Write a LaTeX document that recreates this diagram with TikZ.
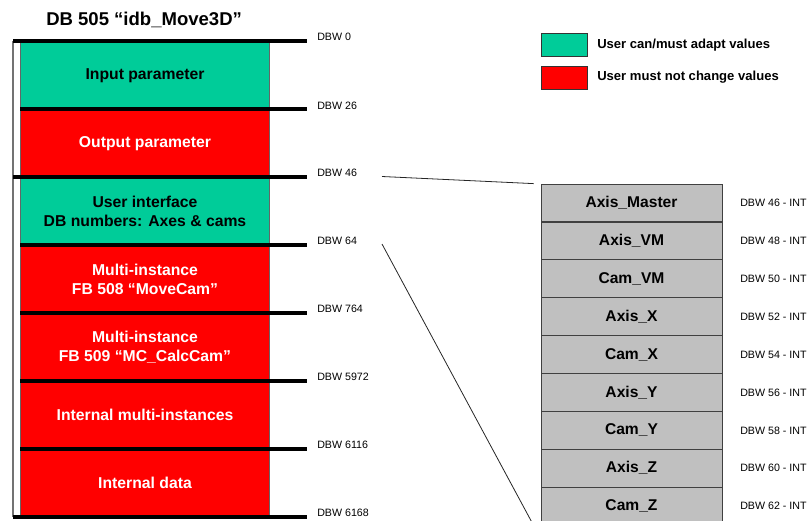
\documentclass[tikz,border=0pt]{standalone}
\usepackage{fontspec}
\setmainfont{Liberation Sans}
\definecolor{usergreen}{HTML}{00CC99}
\definecolor{lockred}{HTML}{FF0000}
\definecolor{cellgray}{HTML}{C0C0C0}
\begin{document}
\begin{tikzpicture}[x=0.75pt,y=-0.75pt,
  segment/.style={minimum width=186.75pt, minimum height=50.9pt, inner sep=0pt,
    draw=black!60, line width=0.6pt, align=center,
    font=\fontsize{11.8}{14.25}\selectfont\bfseries},
  editable/.style={segment, fill=usergreen, text=black},
  locked/.style={segment, fill=lockred, text=white},
  offset/.style={anchor=west, inner sep=0pt, font=\fontsize{8}{9.6}\selectfont},
  bound/.style={line width=3pt},
  cell/.style={minimum width=135.75pt, minimum height=28.4pt, inner sep=0pt,
    draw=black!75, line width=0.6pt, fill=cellgray,
    font=\fontsize{11.7}{14}\selectfont\bfseries},
  legbox/.style={minimum width=34.5pt, minimum height=17.25pt, inner sep=0pt,
    draw=black!80, line width=0.6pt},
  legtext/.style={anchor=west, inner sep=0pt, font=\fontsize{9.8}{11.8}\selectfont\bfseries},
  link/.style={line width=0.6pt, black!85}]
\useasboundingbox (0,0) rectangle (807,521);
\clip (0,0) rectangle (807,521);

% title
\node[anchor=west, inner sep=0pt, font=\fontsize{13.9}{16.7}\selectfont\bfseries]
  (title) at (46,19.5) {DB 505 “idb\_Move3D”};

% bracket on the left
\draw[black!55, line width=1.2pt] (13,41.3) -- (13,516.5);

% data block segments
\node[editable] (inp)  at (145,75.25)  {Input parameter};
\node[locked]   (outp) at (145,143.15) {Output parameter};
\node[editable] (ui)   at (145,211.05) {User interface\\DB numbers: Axes \& cams};
\node[locked]   (fb508) at (145,278.95) {Multi-instance\\FB 508 “MoveCam”};
\node[locked]   (fb509) at (145,346.85) {Multi-instance\\FB 509 “MC\_CalcCam”};
\node[locked]   (imi)  at (145,414.65) {Internal multi-instances};
\node[locked]   (idat) at (145,482.55) {Internal data};

% address boundaries
\draw[bound] (13,41.3)  -- (307,41.3);
\draw[bound] (20,109.2) -- (307,109.2);
\draw[bound] (13,177.1) -- (307,177.1);
\draw[bound] (20,245.0) -- (307,245.0);
\draw[bound] (20,312.9) -- (307,312.9);
\draw[bound] (20,380.7) -- (307,380.7);
\draw[bound] (20,448.6) -- (307,448.6);
\draw[bound] (13,516.5) -- (307,516.5);

\node[offset] (o0)    at (317,37.3)  {DBW 0};
\node[offset] (o26)   at (317,105.4) {DBW 26};
\node[offset] (o46)   at (317,173.3) {DBW 46};
\node[offset] (o64)   at (317,241.2) {DBW 64};
\node[offset] (o764)  at (317,309.1) {DBW 764};
\node[offset] (o5972) at (317,376.9) {DBW 5972};
\node[offset] (o6116) at (317,444.8) {DBW 6116};
\node[offset] (o6168) at (317,512.7) {DBW 6168};

% legend
\node[legbox, fill=usergreen] (lgA) at (564,44.5) {};
\node[legbox, fill=lockred]   (lgB) at (564,77.5) {};
\node[legtext] (lgAt) at (597,45) {User can/must adapt values};
\node[legtext] (lgBt) at (597,77.5) {User must not change values};

% detail of the user interface area
\node[cell] (r1) at (631.5,202.95) {Axis\_Master};
\node[cell] (r2) at (631.5,240.85) {Axis\_VM};
\node[cell] (r3) at (631.5,278.75) {Cam\_VM};
\node[cell] (r4) at (631.5,316.65) {Axis\_X};
\node[cell] (r5) at (631.5,354.55) {Cam\_X};
\node[cell] (r6) at (631.5,392.45) {Axis\_Y};
\node[cell] (r7) at (631.5,430.35) {Cam\_Y};
\node[cell] (r8) at (631.5,468.25) {Axis\_Z};
\node[cell] (r9) at (631.5,506.15) {Cam\_Z};

\node[offset] (a1) at (740,202.95) {DBW 46 - INT};
\node[offset] (a2) at (740,240.85) {DBW 48 - INT};
\node[offset] (a3) at (740,278.75) {DBW 50 - INT};
\node[offset] (a4) at (740,316.65) {DBW 52 - INT};
\node[offset] (a5) at (740,354.55) {DBW 54 - INT};
\node[offset] (a6) at (740,392.45) {DBW 56 - INT};
\node[offset] (a7) at (740,430.35) {DBW 58 - INT};
\node[offset] (a8) at (740,468.25) {DBW 60 - INT};
\node[offset] (a9) at (740,506.15) {DBW 62 - INT};

% zoom lines from the block to the detail
\coordinate (z46) at (382,176.5);
\coordinate (z64) at (382,244);
\draw[link] (z46) -- ([xshift=-5.25pt]r1.north west);
\draw[link] (z64) -- ([xshift=-5.25pt]r9.south west);
\end{tikzpicture}
\end{document}
